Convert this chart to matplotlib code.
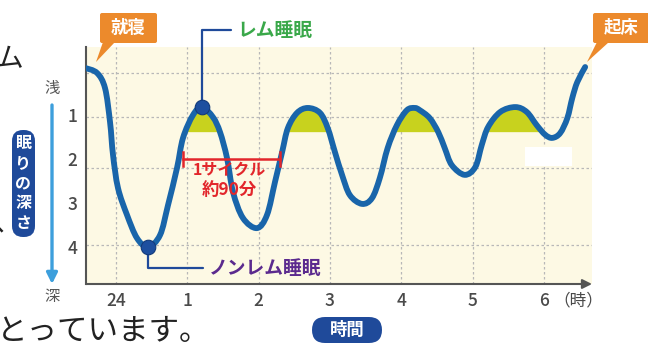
import matplotlib
matplotlib.use("Agg")
import matplotlib.pyplot as plt
from matplotlib.patches import FancyBboxPatch, Polygon, Rectangle, FancyArrowPatch, PathPatch
from matplotlib.path import Path
from matplotlib.transforms import IdentityTransform
import numpy as np

plt.rcParams['font.family'] = ['Noto Sans CJK JP', 'DejaVu Sans']

# hours after midnight and sleep depth along the night
hours = [-0.435, -0.266, -0.154, -0.084, -0.042, 0.028, 0.154, 0.295, 0.449,
         0.617, 0.729, 0.856, 0.94, 1.08, 1.206, 1.36, 1.459, 1.557, 1.641,
         1.78, 1.977, 2.118, 2.23, 2.33, 2.41, 2.54, 2.69, 2.86, 2.97, 3.07,
         3.17, 3.28, 3.45, 3.59, 3.70, 3.81, 3.94, 4.08, 4.19, 4.26, 4.40,
         4.52, 4.61, 4.71, 4.89, 5.04, 5.13, 5.22, 5.39, 5.60, 5.76, 5.90,
         6.02, 6.12, 6.23, 6.33, 6.40, 6.47, 6.58]
depth = [-0.07, 0.045, 0.39, 1.16, 1.91, 2.66, 3.27, 3.80, 4.00,
         3.73, 3.05, 2.20, 1.52, 1.00, 0.82, 1.05, 1.39, 1.98, 2.75,
         3.34, 3.57, 3.27, 2.52, 1.84, 1.30, 0.95, 0.84, 0.95, 1.30, 1.84,
         2.36, 2.82, 3.02, 2.89, 2.43, 1.75, 1.23, 0.89, 0.84, 0.89, 1.07,
         1.39, 1.75, 2.14, 2.36, 2.18, 1.68, 1.27, 0.93, 0.82, 0.93, 1.23,
         1.45, 1.52, 1.41, 1.07, 0.61, 0.25, -0.09]

hour_ticks = [0, 1, 2, 3, 4, 5, 6]
hour_labels = ['24', '1', '2', '3', '4', '5', '6']
depth_ticks = [1, 2, 3, 4]
depth_grid = [0.05, 1.05, 2.2, 3.0, 3.95]
rem_level = 1.39
rem_window = (0.6, 6.2)

rem_point = (1.206, 0.82)
nrem_point = (0.449, 4.00)
cycle_start, cycle_end, cycle_depth = 0.94, 2.30, 2.0

W, H = 648, 348
PX = IdentityTransform()

curve_blue = '#1965aa'
dark_blue = '#1f4a9a'
orange = '#ec8a2c'


def smooth_path(x, y):
    # Catmull-Rom through the points, written as cubic Bezier segments
    p = np.column_stack([x, y])
    p = np.vstack([p[0], p, p[-1]])
    verts = [p[1]]
    codes = [Path.MOVETO]
    for i in range(1, len(p) - 2):
        c1 = p[i] + (p[i + 1] - p[i - 1]) / 6
        c2 = p[i + 1] - (p[i + 2] - p[i]) / 6
        verts += [c1, c2, p[i + 1]]
        codes += [Path.CURVE4] * 3
    return Path(verts, codes)


fig = plt.figure(figsize=(W / 100, H / 100), dpi=100)
ax = fig.add_axes([86 / W, 1 - 284 / H, (592 - 86) / W, (284 - 47) / H])
ax.set_facecolor('#fdf9e4')

h = np.array(hours)
d = np.array(depth)
curve = smooth_path(h, d)
fine = curve.interpolated(12).vertices
inside = (fine[:, 0] > rem_window[0]) & (fine[:, 0] < rem_window[1])
ax.fill_between(fine[:, 0], fine[:, 1], rem_level,
                where=(fine[:, 1] < rem_level) & inside, interpolate=True,
                color='#c8d21e', lw=0, zorder=2)
ax.add_patch(PathPatch(curve, fc='none', ec=curve_blue, lw=4.2,
                       capstyle='round', joinstyle='round', zorder=4))

# white patch over the grid near the last dip
ax.add_patch(Rectangle((5.74, 1.72), 0.65, 0.43, fc='white', ec='none', zorder=3))

ax.set_xlim(-0.421, 6.676)
ax.set_ylim(4.84, -0.545)
ax.set_xticks(hour_ticks)
ax.set_xticklabels(hour_labels)
ax.set_yticks(depth_ticks)
ax.set_yticks(depth_grid, minor=True)
ax.tick_params(which='both', length=0)
ax.tick_params(axis='both', labelsize=12.5, colors='#4a4a4a', pad=6)
for lab in ax.get_xticklabels() + ax.get_yticklabels():
    lab.set_fontweight('medium')
ax.grid(axis='x', which='major', color='#b8b8b8', lw=0.9, ls=(0, (2, 2)))
ax.grid(axis='y', which='minor', color='#b8b8b8', lw=0.9, ls=(0, (2, 2)))
ax.set_axisbelow(True)
for s in ['top', 'right', 'bottom']:
    ax.spines[s].set_visible(False)
ax.spines['left'].set_color('#555555')
ax.spines['left'].set_linewidth(1.5)
ax.annotate('', xy=(1.0, 0), xytext=(0, 0), xycoords='axes fraction',
            arrowprops=dict(arrowstyle='-|>', color='#555555', lw=1.5,
                            mutation_scale=14, shrinkA=0, shrinkB=0))
fig.text(578, H - 301, '（時）', transform=PX, ha='center', va='center',
         fontsize=12, color='#4a4a4a')

# REM / non-REM markers with their labels
ax.scatter(*rem_point, s=110, color='#1d4f9f', ec='#123a7a', lw=0.8, zorder=6)
ax.scatter(*nrem_point, s=110, color='#1d4f9f', ec='#123a7a', lw=0.8, zorder=6)
ax.annotate('', xy=rem_point, xycoords='data', xytext=(231, H - 30),
            textcoords='figure pixels',
            arrowprops=dict(arrowstyle='-', color=dark_blue, lw=1.6,
                            connectionstyle='angle,angleA=0,angleB=90,rad=0',
                            shrinkA=0, shrinkB=0), zorder=5)
ax.annotate('', xy=nrem_point, xycoords='data', xytext=(203, H - 268),
            textcoords='figure pixels',
            arrowprops=dict(arrowstyle='-', color=dark_blue, lw=1.6,
                            connectionstyle='angle,angleA=0,angleB=90,rad=0',
                            shrinkA=0, shrinkB=0), zorder=5)
fig.text(237, H - 30, 'レム睡眠', transform=PX, ha='left', va='center',
         fontsize=13.5, fontweight='bold', color='#3aa84a')
fig.text(209, H - 268, 'ノンレム睡眠', transform=PX, ha='left', va='center',
         fontsize=13.5, fontweight='bold', color='#5b2a8e')

# one cycle bracket
red = '#e2262b'
ax.plot([cycle_start, cycle_end], [cycle_depth, cycle_depth], color=red, lw=1.8, zorder=5)
for cx in (cycle_start, cycle_end):
    ax.plot([cx, cx], [cycle_depth - 0.16, cycle_depth + 0.16], color=red, lw=1.8, zorder=5)
fig.text(229, H - 170, '1サイクル', transform=PX, ha='center', va='center',
         fontsize=11.5, fontweight='bold', color=red)
fig.text(229, H - 190, '約90分', transform=PX, ha='center', va='center',
         fontsize=12.5, fontweight='bold', color=red)


def callout(label, x0, y0, x1, y1, base, tip):
    fig.patches.append(FancyBboxPatch((x0, H - y1), x1 - x0, y1 - y0,
                                      boxstyle='round,pad=0,rounding_size=2',
                                      transform=PX, fc=orange, ec='none'))
    fig.patches.append(Polygon([(base[0], H - y1 + 1), (base[1], H - y1 + 1),
                                (tip[0], H - tip[1])], closed=True,
                               transform=PX, fc=orange, ec='none'))
    fig.text((x0 + x1) / 2, H - (y0 + y1) / 2, label, transform=PX,
             ha='center', va='center', fontsize=12.5, fontweight='bold',
             color='white')


callout('就寝', 100, 13, 157, 43, (103, 115), (96, 62))
callout('起床', 593, 13, 650, 43, (597, 609), (587, 62))


def pill(x0, y0, x1, y1, r):
    fig.patches.append(FancyBboxPatch((x0, H - y1), x1 - x0, y1 - y0,
                                      boxstyle=f'round,pad=0,rounding_size={r}',
                                      transform=PX, fc=dark_blue, ec='none'))


# depth axis caption
pill(12, 130, 35, 237, 11)
for i, ch in enumerate('眠りの深さ'):
    fig.text(23.5, H - (143 + 20 * i), ch, transform=PX, ha='center',
             va='center', fontsize=11.5, fontweight='bold', color='white')
fig.patches.append(FancyArrowPatch((52, H - 105), (52, H - 284), transform=PX,
                                   arrowstyle='-|>', mutation_scale=16,
                                   color='#3d9fdc', lw=2.4, shrinkA=0, shrinkB=0))
fig.text(52, H - 88, '浅', transform=PX, ha='center', va='center',
         fontsize=11, color='#555555')
fig.text(52, H - 296, '深', transform=PX, ha='center', va='center',
         fontsize=11, color='#555555')

# time axis caption
pill(312, 317, 382, 343, 13)
fig.text(347, H - 330, '時間', transform=PX, ha='center', va='center',
         fontsize=12.5, fontweight='bold', color='white')

# surrounding page text
fig.text(-4, H - 59, 'ム', transform=PX, ha='left', va='center',
         fontsize=20, color='#222222')
fig.text(-6, H - 222, '、', transform=PX, ha='left', va='center',
         fontsize=20, color='#222222')
fig.text(-3, H - 331, 'とっています。', transform=PX, ha='left', va='center',
         fontsize=22, color='#222222')

fig.savefig('out.png', dpi=100)
